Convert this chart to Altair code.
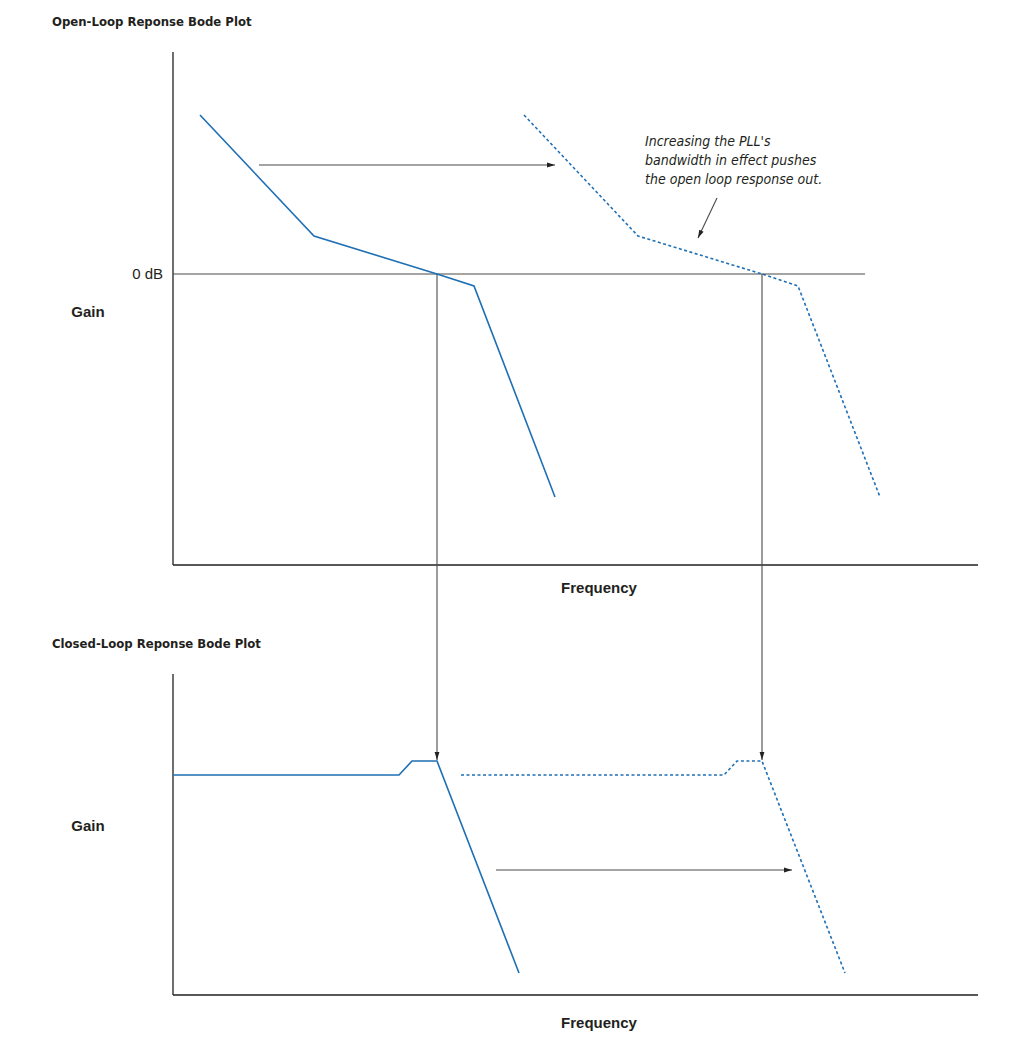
import altair as alt
import pandas as pd
import numpy as np

# Canvas (chart units == page pixels)
W, H = 999, 1025
PAGE = 8

BLUE = "#1f6fb4"
AXIS = "#231f20"
GREY = "#4a4a4a"

# ---- series ----
ol_solid_x = [200, 314, 437, 474, 555]
ol_solid_y = [115, 236, 274, 286, 497]
ol_dot_x = [524, 638, 762, 798, 880]
ol_dot_y = [115, 236, 274, 286, 497]
cl_solid_x = [173, 399, 412, 437, 519]
cl_solid_y = [775, 775, 761, 761, 973]
cl_dot_x = [461, 724, 737, 762, 845]
cl_dot_y = [775, 775, 761, 761, 973]

# axes frames: x, x2, y, y2
axis_x = [173, 173, 173, 173]
axis_x2 = [173, 978, 173, 978]
axis_y = [52, 565, 674, 995]
axis_y2 = [565, 565, 995, 995]

# 0 dB reference line
zero_x, zero_x2, zero_y = [173], [865], [274]

# arrows: start -> end
arr_x1 = [259, 496, 437, 762, 717]
arr_y1 = [165, 870, 274, 274, 198]
arr_x2 = [555, 792, 437, 762, 698]
arr_y2 = [165, 870, 760, 760, 238]

# texts
title_text = ["Open-Loop Reponse Bode Plot", "Closed-Loop Reponse Bode Plot"]
title_x = [52, 52]
title_y = [22, 644]
label_text = ["Gain", "Frequency", "Gain", "Frequency"]
label_x = [88, 599, 88, 599]
label_y = [312, 588, 826, 1023]
tick_text = ["0 dB"]
tick_x = [163]
tick_y = [274]
note_text = ["Increasing the PLL's", "bandwidth in effect pushes", "the open loop response out."]
note_x = [645, 645, 645]
note_y = [142, 161, 180]

# ---- tables ----
lines = []
for name, xs, ys, style in [
    ("ol_solid", ol_solid_x, ol_solid_y, "solid"),
    ("ol_dot", ol_dot_x, ol_dot_y, "dot"),
    ("cl_solid", cl_solid_x, cl_solid_y, "solid"),
    ("cl_dot", cl_dot_x, cl_dot_y, "dot"),
]:
    for i, (xv, yv) in enumerate(zip(xs, ys)):
        lines.append({"series": name, "style": style, "x": xv, "y": yv, "o": i})
lines = pd.DataFrame(lines)

axes_df = pd.DataFrame({"x": axis_x, "x2": axis_x2, "y": axis_y, "y2": axis_y2})
zero_df = pd.DataFrame({"x": zero_x, "x2": zero_x2, "y": zero_y})
arr_df = pd.DataFrame({"x": arr_x1, "y": arr_y1, "x2": arr_x2, "y2": arr_y2})
arr_df["ang"] = np.degrees(np.arctan2(arr_df["y2"] - arr_df["y"], arr_df["x2"] - arr_df["x"]))
head_df = pd.DataFrame({"x": arr_df["x2"], "y": arr_df["y2"], "ang": arr_df["ang"]})

xs = alt.Scale(domain=[PAGE, PAGE + W], nice=False, zero=False)
ys = alt.Scale(domain=[PAGE, PAGE + H], nice=False, zero=False, reverse=True)
X = alt.X("x:Q", scale=xs, axis=None)
Y = alt.Y("y:Q", scale=ys, axis=None)

base_lines = alt.Chart(lines)
solid = base_lines.transform_filter(alt.datum.style == "solid").mark_line(
    color=BLUE, strokeWidth=1.6
).encode(x=X, y=Y, detail="series:N", order="o:Q")
dotted = base_lines.transform_filter(alt.datum.style == "dot").mark_line(
    color=BLUE, strokeWidth=1.6, strokeDash=[3, 2.5]
).encode(x=X, y=Y, detail="series:N", order="o:Q")

axes = alt.Chart(axes_df).mark_rule(color=AXIS, strokeWidth=1.3).encode(
    x=X, x2="x2:Q", y=Y, y2="y2:Q"
)
zero = alt.Chart(zero_df).mark_rule(color=GREY, strokeWidth=1.1).encode(
    x=X, x2="x2:Q", y=Y
)
arrows = alt.Chart(arr_df).mark_rule(color=GREY, strokeWidth=1.1).encode(
    x=X, x2="x2:Q", y=Y, y2="y2:Q"
)
heads = alt.Chart(head_df).mark_point(
    shape="M0,0L-2,-0.6L-2,0.6Z", size=64, filled=True, color="#222222", opacity=1
).encode(x=X, y=Y, angle=alt.Angle("ang:Q", scale=None))

NARROW = "Liberation Sans Narrow, Arial Narrow, DejaVu Sans Condensed, sans-serif"
titles = alt.Chart(pd.DataFrame({"x": title_x, "y": title_y, "t": title_text})).mark_text(
    align="left", baseline="middle", font=NARROW, fontWeight="bold", fontSize=13, color="#231f20"
).encode(x=X, y=Y, text="t:N")
labels = alt.Chart(pd.DataFrame({"x": label_x, "y": label_y, "t": label_text})).mark_text(
    align="center", baseline="middle", font="Liberation Sans, Arial, sans-serif",
    fontWeight="bold", fontSize=15, color="#231f20"
).encode(x=X, y=Y, text="t:N")
ticks = alt.Chart(pd.DataFrame({"x": tick_x, "y": tick_y, "t": tick_text})).mark_text(
    align="right", baseline="middle", font="Liberation Sans, Arial, sans-serif",
    fontSize=15, color="#231f20"
).encode(x=X, y=Y, text="t:N")
notes = alt.Chart(pd.DataFrame({"x": note_x, "y": note_y, "t": note_text})).mark_text(
    align="left", baseline="middle", font=NARROW, fontStyle="italic",
    fontSize=14, color="#231f20"
).encode(x=X, y=Y, text="t:N")

chart = alt.layer(
    axes, zero, arrows, heads, solid, dotted, titles, labels, ticks, notes
).properties(
    width=W, height=H, padding=0, autosize=alt.AutoSizeParams(type="none")
).configure_view(stroke=None)

chart.save("out.html", embed_options={"renderer": "svg", "actions": False})
